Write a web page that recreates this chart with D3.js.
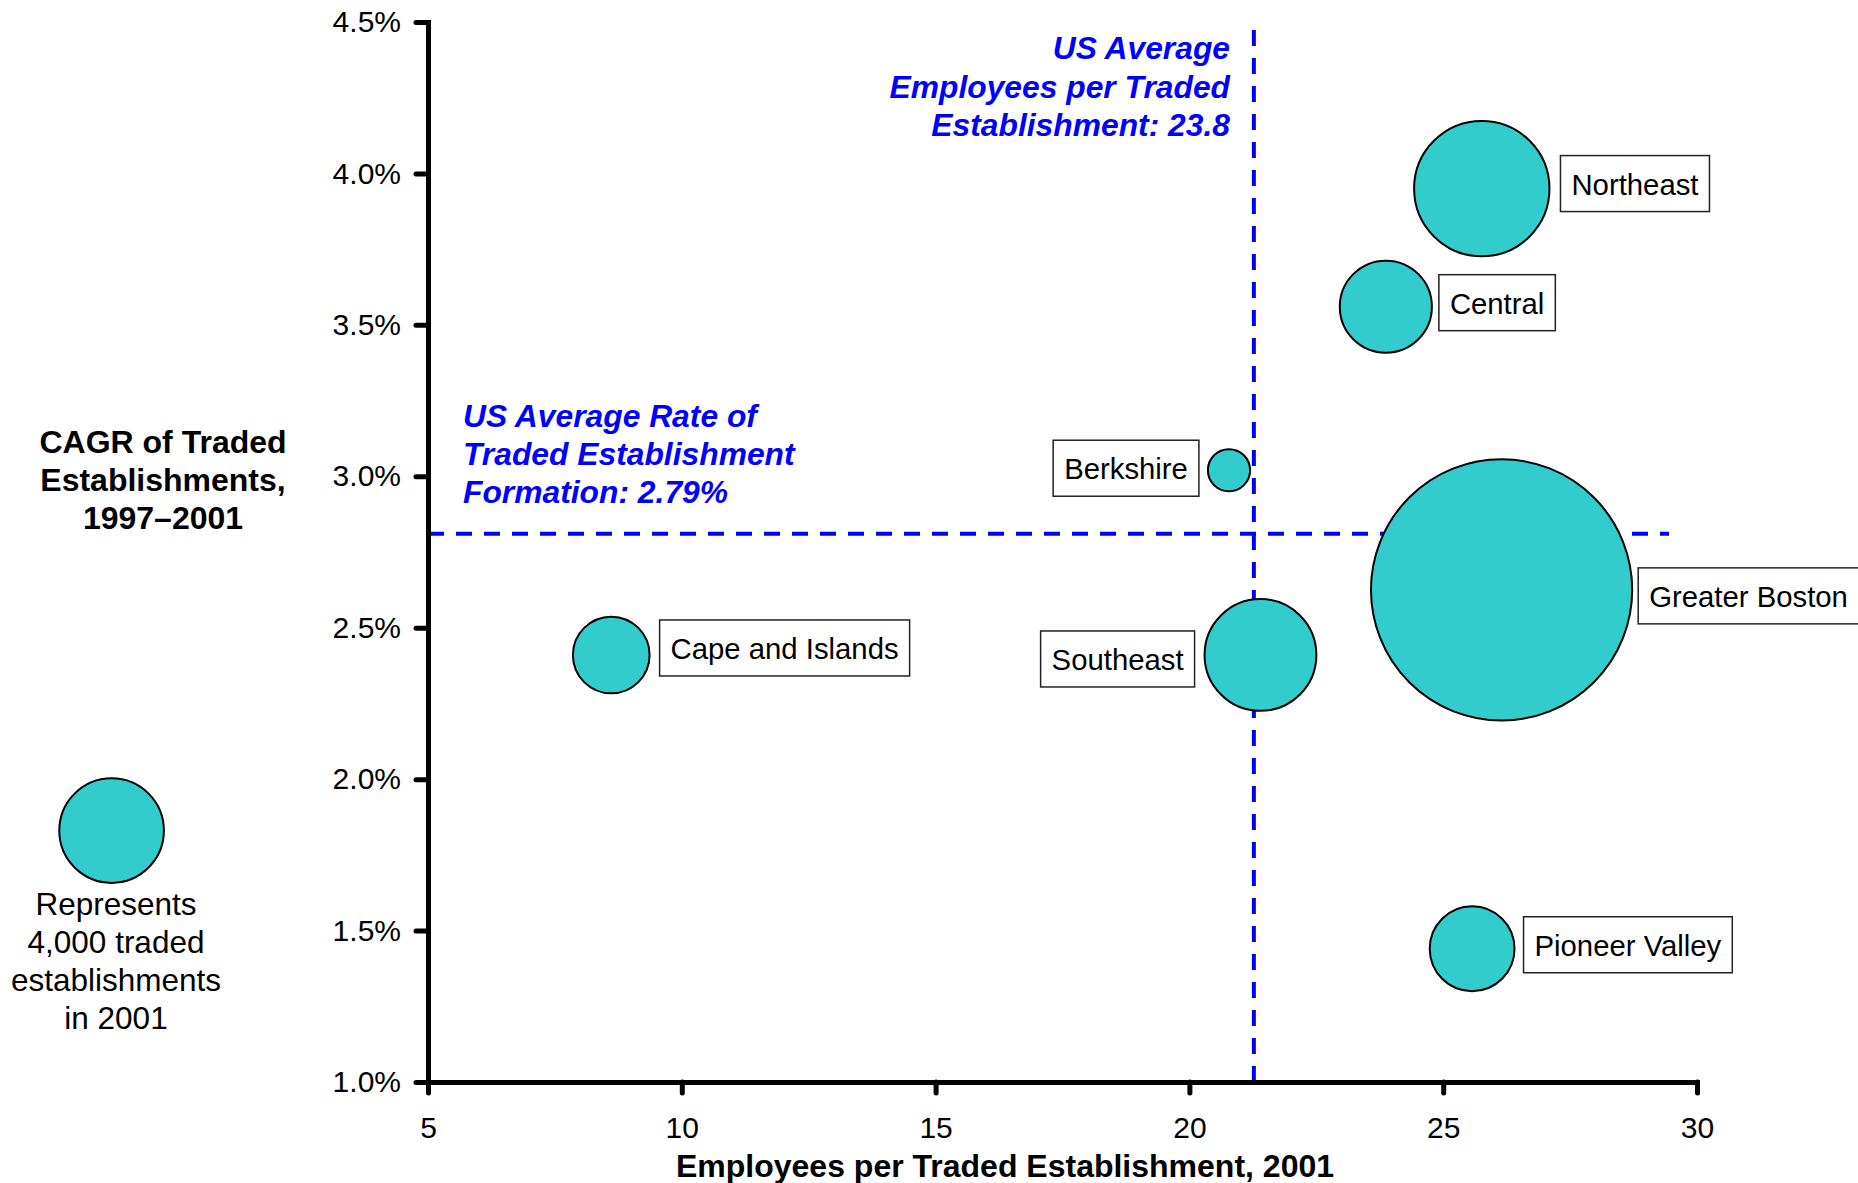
<!DOCTYPE html>
<html>
<head>
<meta charset="utf-8">
<script src="https://cdn.jsdelivr.net/npm/d3@7"></script>
<style>
  body { margin: 0; background: #fff; }
  svg { display: block; font-family: "Liberation Sans", Arial, sans-serif; }
</style>
</head>
<body>
<svg id="chart"></svg>
<script>
const width = 1858, height = 1183;

// Data
const regions = ["Northeast", "Central", "Berkshire", "Greater Boston", "Southeast", "Cape and Islands", "Pioneer Valley"];
const employeesPerEst = [25.76, 23.87, 20.78, 26.15, 21.4, 8.61, 25.57];
const cagr = [3.95, 3.56, 3.02, 2.625, 2.41, 2.41, 1.44];
const establishments = [6700, 3100, 650, 24950, 4570, 2150, 2630];

const xTicks = [5, 10, 15, 20, 25, 30];
const yTicks = [1.0, 1.5, 2.0, 2.5, 3.0, 3.5, 4.0, 4.5];

const usAvgEmployees = 21.27;   // where the vertical line is drawn
const usAvgRate = 2.81;         // where the horizontal line is drawn
const legendSize = 4000;

// label placement (side of bubble, vertical nudge)
const labelLayout = {
  "Northeast":        { side: "right", gap: 11, dy: -5 },
  "Central":          { side: "right", gap: 7,  dy: -4 },
  "Berkshire":        { side: "left",  gap: 9,  dy: -2 },
  "Greater Boston":   { side: "right", gap: 6,  dy: 6 },
  "Southeast":        { side: "left",  gap: 10, dy: 4 },
  "Cape and Islands": { side: "right", gap: 10, dy: -7 },
  "Pioneer Valley":   { side: "right", gap: 9,  dy: -4 }
};

const data = regions.map((name, i) => ({
  name, x: employeesPerEst[i], y: cagr[i], n: establishments[i]
}));

const svg = d3.select("#chart")
    .attr("width", width)
    .attr("height", height);

svg.append("rect").attr("width", width).attr("height", height).attr("fill", "#fff");

const x = d3.scaleLinear().domain([5, 30]).range([428, 1697]);
const y = d3.scaleLinear().domain([1, 4.5]).range([1082, 22]);
const r = d3.scaleSqrt().domain([0, legendSize]).range([0, 52.3]);

// Reference lines (drawn under the bubbles)
svg.append("line")
    .attr("x1", x(usAvgEmployees)).attr("x2", x(usAvgEmployees))
    .attr("y1", 30).attr("y2", y(1))
    .attr("stroke", "#0000ff").attr("stroke-width", 4)
    .attr("stroke-dasharray", "16,12");

svg.append("line")
    .attr("x1", x(5)).attr("x2", 1669)
    .attr("y1", y(usAvgRate)).attr("y2", y(usAvgRate))
    .attr("stroke", "#0000ff").attr("stroke-width", 4)
    .attr("stroke-dasharray", "16,12");

// Axes
const yAxis = svg.append("g")
    .attr("transform", `translate(${x(5)},0)`)
    .call(d3.axisLeft(y).tickValues(yTicks).tickFormat(d => d.toFixed(1) + "%")
        .tickSizeInner(12).tickSizeOuter(0).tickPadding(15));

const xAxis = svg.append("g")
    .attr("transform", `translate(0,${y(1)})`)
    .call(d3.axisBottom(x).tickValues(xTicks).tickFormat(d3.format("d"))
        .tickSizeInner(11).tickSizeOuter(0).tickPadding(24));

[yAxis, xAxis].forEach(g => {
  g.select(".domain").attr("stroke", "#000").attr("stroke-width", 5).attr("stroke-linecap", "square");
  g.selectAll(".tick line").attr("stroke", "#000").attr("stroke-width", 5).attr("stroke-linecap", "round");
  g.selectAll(".tick text").attr("fill", "#000")
      .style("font-family", "'Liberation Sans', Arial, sans-serif")
      .style("font-size", "30px");
});

// Bubbles
svg.append("g").selectAll("circle")
  .data(data)
  .join("circle")
    .attr("cx", d => x(d.x))
    .attr("cy", d => y(d.y))
    .attr("r", d => r(d.n))
    .attr("fill", "#33cccc")
    .attr("stroke", "#000")
    .attr("stroke-width", 2);

// Label boxes
const labels = svg.append("g").selectAll("g")
  .data(data)
  .join("g");

labels.each(function(d) {
  const g = d3.select(this);
  const lay = labelLayout[d.name];
  const txt = g.append("text")
      .attr("font-size", 29.3)
      .attr("fill", "#000")
      .text(d.name);
  const tw = txt.node().getComputedTextLength();
  const bw = tw + 22, bh = 56;
  const cx = x(d.x), cy = y(d.y), rad = r(d.n);
  const left = lay.side === "right" ? cx + rad + lay.gap : cx - rad - lay.gap - bw;
  const top = cy + lay.dy - bh / 2;
  g.insert("rect", "text")
      .attr("x", left).attr("y", top)
      .attr("width", bw).attr("height", bh)
      .attr("fill", "#fff")
      .attr("stroke", "#222")
      .attr("stroke-width", 1.5);
  txt.attr("x", left + 11).attr("y", top + 39);
});

// Annotations
function multiline(lines, xPos, y0, lh, opts) {
  const t = svg.append("text")
      .attr("x", xPos).attr("y", y0)
      .attr("text-anchor", opts.anchor || "start")
      .attr("font-size", opts.size)
      .attr("font-weight", opts.weight || "normal")
      .attr("font-style", opts.style || "normal")
      .attr("fill", opts.fill || "#000");
  lines.forEach((l, i) => {
    t.append("tspan").attr("x", xPos).attr("y", y0 + i * lh).text(l);
  });
  return t;
}

multiline(["US Average", "Employees per Traded", "Establishment: 23.8"], 1230, 59, 38.5,
  { anchor: "end", size: 31.8, weight: "bold", style: "italic", fill: "#0000ff" });

multiline(["US Average Rate of", "Traded Establishment", "Formation: 2.79%"], 463, 426.5, 38,
  { anchor: "start", size: 31.8, weight: "bold", style: "italic", fill: "#0000ff" });

// Axis titles
multiline(["CAGR of Traded", "Establishments,", "1997\u20132001"], 163, 453, 38,
  { anchor: "middle", size: 32, weight: "bold" });

multiline(["Employees per Traded Establishment, 2001"], 1005, 1177, 0,
  { anchor: "middle", size: 32, weight: "bold" });

// Size legend
svg.append("circle")
    .attr("cx", 111.6).attr("cy", 830.6)
    .attr("r", r(legendSize))
    .attr("fill", "#33cccc")
    .attr("stroke", "#000")
    .attr("stroke-width", 2);

multiline(["Represents", "4,000 traded", "establishments", "in 2001"], 116, 914.5, 38.2,
  { anchor: "middle", size: 31.5 });
</script>
</body>
</html>
